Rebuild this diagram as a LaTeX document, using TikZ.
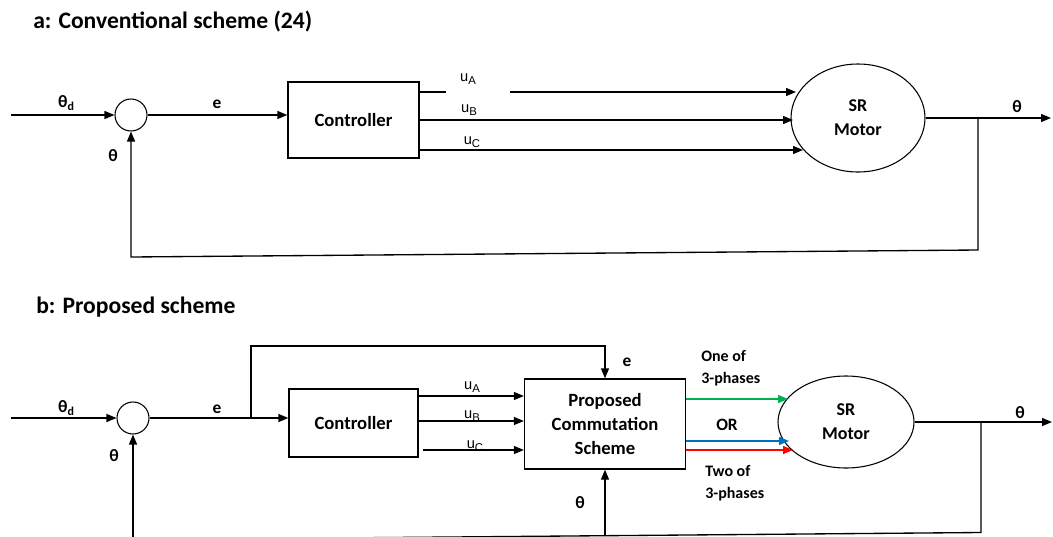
\documentclass[tikz,border=0pt]{standalone}
\usepackage{fontspec}
\setmainfont{Carlito}
\newfontfamily\arialf{Liberation Sans}
\usetikzlibrary{arrows.meta,shapes.geometric,calc}
\definecolor{pgreen}{RGB}{0,176,80}
\definecolor{pblue}{RGB}{0,112,192}
\definecolor{pred}{RGB}{255,0,0}
\newcommand{\thd}{θ\raisebox{-0.35ex}{\fontsize{9}{9}\selectfont d}}
\newcommand{\ulab}[1]{u\raisebox{-0.35ex}{\fontsize{8.5}{9}\selectfont #1}}
\begin{document}
\begin{tikzpicture}[x=0.75pt,y=-0.75pt,
  ln/.style={line width=1pt},
  arr/.style={line width=1pt,-{Triangle[length=7.5pt,width=6pt]}},
  box/.style={draw,line width=1pt,rectangle,inner sep=0pt,font=\fontsize{14}{18}\selectfont\bfseries,align=center},
  sumc/.style={draw,line width=0.8pt,circle,minimum size=24pt,inner sep=0pt},
  mot/.style={draw,line width=0.8pt,ellipse,inner sep=0pt,font=\fontsize{13.5}{18}\selectfont\bfseries,align=center},
  lbl/.style={font=\fontsize{13}{15}\selectfont\bfseries,inner sep=0pt},
  ttl/.style={font=\fontsize{17.7}{20}\selectfont\bfseries,anchor=west,inner sep=0pt},
  ulbl/.style={font=\arialf\fontsize{11}{13}\selectfont,inner sep=0pt},
  small/.style={font=\fontsize{12}{16.5}\selectfont\bfseries,align=left,inner sep=0pt,anchor=west}
]
\useasboundingbox (0,0) rectangle (1053,536);

% ---------------- a: conventional scheme ----------------
\node[ttl] (titleA) at (33,22) {a: Conventional scheme (24)};
\node[sumc] (sumA) at (131,115) {};
\node[box,minimum width=98.25pt,minimum height=57pt] (ctrlA) at (353.5,120) {Controller};
\node[mot,minimum width=100.5pt,minimum height=81pt] (motorA) at (858,118) {SR\\Motor};

\coordinate (inA) at (11,115);
\coordinate (gapA1) at (446,92);
\coordinate (gapA2) at (510,92);
\coordinate (mA1) at (796,92);
\coordinate (mA2) at (793,120);
\coordinate (mA3) at (803,150);
\coordinate (outA) at (1051,118);
\coordinate (brA) at (978,118);
\coordinate (fbA1) at (978,250);
\coordinate (fbA2) at (131,257);

\draw[arr] (inA) -- (sumA.west);
\draw[arr] (sumA.east) -- (sumA.east -| ctrlA.west);
\draw[ln] (ctrlA.east |- gapA1) -- (gapA1);
\draw[arr] (gapA2) -- (mA1);
\draw[arr] (ctrlA.east |- mA2) -- (mA2);
\draw[arr] (ctrlA.east |- mA3) -- (mA3);
\draw[arr] (motorA.east) -- (outA);
\draw[arr] (brA) -- (fbA1) -- (fbA2) -- (sumA.south);

\node[lbl] (thdA) at (66,103) {\thd};
\node[lbl] (eA) at (217,104) {e};
\node[lbl] (thA) at (113,156) {θ};
\node[ulbl] (uAa) at (468,79) {\ulab{A}};
\node[ulbl] (uBa) at (469,110) {\ulab{B}};
\node[ulbl] (uCa) at (472,142) {\ulab{C}};
\node[lbl] (thoA) at (1017,107) {θ};

% ---------------- b: proposed scheme ----------------
\node[ttl] (titleB) at (36,307) {b: Proposed scheme};
\node[sumc] (sumB) at (133,418) {};
\node[box,minimum width=96.75pt,minimum height=51pt] (ctrlB) at (353.5,423) {Controller};
\node[box,minimum width=120.75pt,minimum height=67.5pt] (propB) at (605,424) {Proposed\\Commutation\\Scheme};
\node[mot,minimum width=102pt,minimum height=69pt] (motorB) at (846,422) {SR\\Motor};

\coordinate (inB) at (11,418);
\coordinate (brE) at (251,418);
\coordinate (eTop) at (251,346);
\coordinate (uAy) at (0,396);
\coordinate (uBy) at (0,421);
\coordinate (uCs) at (423,450);
\coordinate (gB) at (788,399);
\coordinate (bB) at (789,441);
\coordinate (rB) at (793,450);
\coordinate (outB) at (1052,422);
\coordinate (brB) at (981,422);
\coordinate (fbB1) at (981,532.5);
\coordinate (fbB2) at (605,535.7);
\coordinate (fbB3) at (133,539.7);

\draw[arr] (inB) -- (sumB.west);
\draw[arr] (sumB.east) -- (sumB.east -| ctrlB.west);
\draw[arr] (brE) -- (eTop) -| (propB.north);
\draw[arr] (ctrlB.east |- uAy) -- (propB.west |- uAy);
\draw[arr] (ctrlB.east |- uBy) -- (propB.west |- uBy);
\draw[arr] (uCs) -- (propB.west |- uCs);
\draw[arr,pgreen] (propB.east |- gB) -- (gB);
\draw[arr,pblue] (propB.east |- bB) -- (bB);
\draw[arr,pred] (propB.east |- rB) -- (rB);
\draw[arr] (motorB.east) -- (outB);
\draw[ln] (brB) -- (fbB1) -- (fbB3);
\draw[arr] (fbB3) -- (sumB.south);
\draw[arr] (fbB2) -- (propB.south);

\node[lbl] (thdB) at (66,408) {\thd};
\node[lbl] (eB) at (217,409) {e};
\node[lbl] (thB) at (114,456) {θ};
\node[ulbl] (uAb) at (472,387) {\ulab{A}};
\node[ulbl] (uBb) at (472,416) {\ulab{B}};
\node[ulbl] (uCb) at (475,446) {\ulab{C}};
\node[lbl] (eP) at (627,362) {e};
\node[lbl] (thP) at (580,503) {θ};
\node[small] (one) at (701,368) {One of\\3-phases};
\node[lbl,font=\fontsize{13}{15}\selectfont\bfseries] (orB) at (727,425) {OR};
\node[small] (two) at (705,483) {Two of\\3-phases};
\node[lbl] (thoB) at (1020,413) {θ};
\end{tikzpicture}
\end{document}
